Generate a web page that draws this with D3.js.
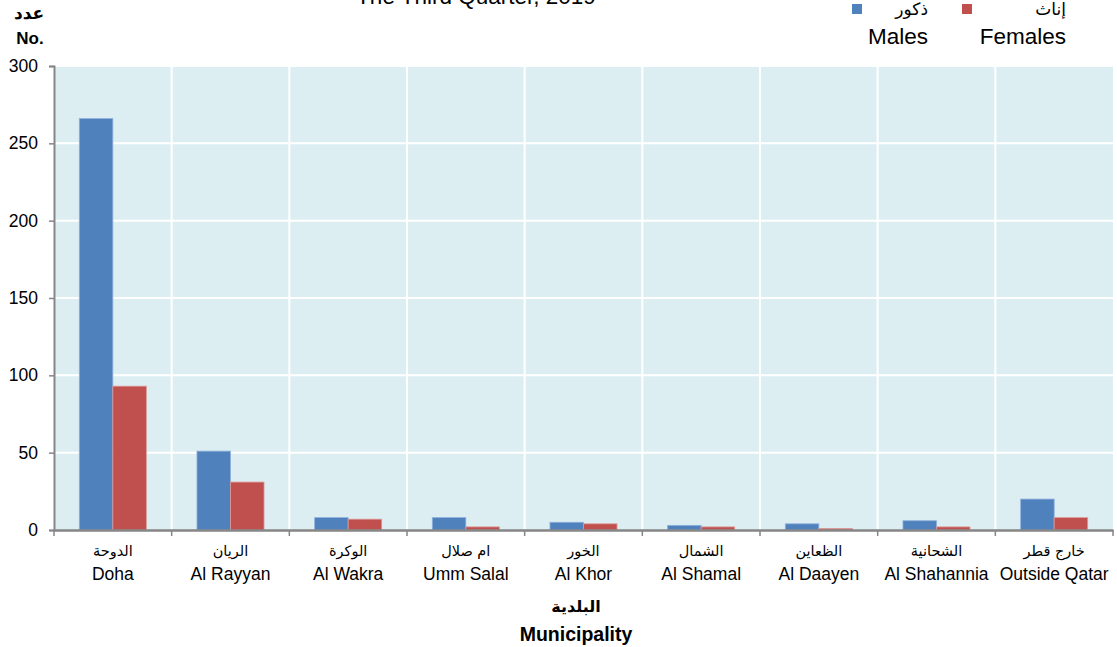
<!DOCTYPE html>
<html><head><meta charset="utf-8">
<script src="https://cdn.jsdelivr.net/npm/d3@7"></script>
<style>
html,body{margin:0;padding:0;background:#fff;}
text{font-family:"Liberation Sans",Arial,"DejaVu Sans",sans-serif;fill:#000;}
</style></head>
<body>
<svg id="chart" width="1117" height="647"></svg>
<script>
const categoriesAr = ["الدوحة","الريان","الوكرة","ام صلال","الخور","الشمال","الظعاين","الشحانية","خارج قطر"];
const categoriesEn = ["Doha","Al Rayyan","Al Wakra","Umm Salal","Al Khor","Al Shamal","Al Daayen","Al Shahannia","Outside Qatar"];
const males   = [266, 51, 8, 8, 5, 3, 4, 6, 20];
const females = [93, 31, 7, 2, 4, 2, 1, 2, 8];
const yTicks = [0, 50, 100, 150, 200, 250, 300];
const seriesNames = [{ar:"ذكور", en:"Males", color:"#4F81BD"}, {ar:"إناث", en:"Females", color:"#C0504D"}];
const titleText = "The Third Quarter, 2019";

const svg = d3.select("#chart");
const m = {left:54, right:1113, top:66, bottom:530};

const x = d3.scaleBand().domain(categoriesEn).range([m.left, m.right]).paddingInner(0).paddingOuter(0);
const inner = d3.scaleBand().domain([0,1]).range([0, x.bandwidth()]).paddingInner(0).paddingOuter(0.755);
const y = d3.scaleLinear().domain([0, 300]).range([m.bottom, m.top]);

// plot background
svg.append("rect").attr("x", m.left).attr("y", m.top).attr("width", m.right - m.left).attr("height", m.bottom - m.top).attr("fill", "#DDEEF3");

// horizontal gridlines
svg.append("g").selectAll("line").data(yTicks.filter(d => d > 0)).join("line")
  .attr("x1", m.left).attr("x2", m.right).attr("y1", d => y(d)).attr("y2", d => y(d))
  .attr("stroke", "#fff").attr("stroke-width", 2);
// vertical gridlines
svg.append("g").selectAll("line").data(categoriesEn.slice(1)).join("line")
  .attr("x1", d => x(d)).attr("x2", d => x(d)).attr("y1", m.top).attr("y2", m.bottom)
  .attr("stroke", "#fff").attr("stroke-width", 2);

// bars
const seriesData = [males, females];
seriesData.forEach((vals, si) => {
  svg.append("g").selectAll("rect").data(vals).join("rect")
    .attr("x", (d, i) => x(categoriesEn[i]) + inner(si))
    .attr("width", inner.bandwidth())
    .attr("y", d => y(d))
    .attr("height", d => y(0) - y(d))
    .attr("fill", seriesNames[si].color)
    .attr("stroke", si === 0 ? "#8fb0dc" : "#dc9a98").attr("stroke-width", 0.8);
});

// y axis
const yAxis = d3.axisLeft(y).tickValues(yTicks).tickSize(5).tickPadding(11);
const gy = svg.append("g").attr("transform", `translate(${m.left},0)`).call(yAxis);
gy.select(".domain").attr("stroke", "#868686").attr("stroke-width", 2);
gy.selectAll(".tick line").attr("stroke", "#868686").attr("stroke-width", 1.5);
gy.selectAll(".tick text").style("font-size", "17.5px").style("font-family", '"Liberation Sans",Arial,sans-serif').attr("fill", "#000");

// x axis
const xAxis = d3.axisBottom(x).tickSize(0).tickFormat("");
const gx = svg.append("g").attr("transform", `translate(0,${m.bottom})`).call(xAxis);
gx.select(".domain").attr("stroke", "#868686").attr("stroke-width", 2.5);
gx.selectAll(".tick").remove();
const bounds = categoriesEn.map(d => x(d)).concat([m.right]);
gx.selectAll("line.b").data(bounds).join("line").attr("class","b")
  .attr("x1", d => d).attr("x2", d => d).attr("y1", 0).attr("y2", 6)
  .attr("stroke", "#868686").attr("stroke-width", 1.5);

// category labels
const lab = svg.append("g");
lab.selectAll("text.ar").data(categoriesAr).join("text").attr("class","ar")
  .attr("x", (d, i) => x(categoriesEn[i]) + x.bandwidth()/2).attr("y", 556)
  .attr("text-anchor", "middle").style("font-size", "14.5px")
  .style("font-family", '"DejaVu Sans",sans-serif').text(d => d);
lab.selectAll("text.en").data(categoriesEn).join("text").attr("class","en")
  .attr("x", d => x(d) + x.bandwidth()/2).attr("y", 580)
  .attr("text-anchor", "middle").style("font-size", "17.5px").text(d => d);

// axis titles
svg.append("text").attr("x", 29).attr("y", 19).attr("text-anchor","middle")
  .style("font-size","17px").style("font-weight","bold").style("font-family",'"DejaVu Sans",sans-serif').text("عدد");
svg.append("text").attr("x", 30).attr("y", 44).attr("text-anchor","middle")
  .style("font-size","17px").style("font-weight","bold").text("No.");
svg.append("text").attr("x", 576).attr("y", 612).attr("text-anchor","middle")
  .style("font-size","16px").style("font-weight","bold").style("font-family",'"DejaVu Sans",sans-serif').text("البلدية");
svg.append("text").attr("x", 576).attr("y", 641).attr("text-anchor","middle")
  .style("font-size","19.5px").style("font-weight","bold").text("Municipality");

// title (cut off at top, as in the reference)
svg.append("text").attr("x", 476).attr("y", 4).attr("text-anchor","middle")
  .style("font-size","22.5px").text(titleText);

// legend
const legPos = [{sq:852, right:928}, {sq:962, right:1066}];
seriesNames.forEach((s, i) => {
  svg.append("rect").attr("x", legPos[i].sq).attr("y", 4).attr("width", 10).attr("height", 10).attr("fill", s.color);
  svg.append("text").attr("x", legPos[i].right).attr("y", 15).attr("text-anchor","end")
    .style("font-size","17px").style("font-family",'"DejaVu Sans",sans-serif').text(s.ar);
  svg.append("text").attr("x", legPos[i].right).attr("y", 44).attr("text-anchor","end")
    .style("font-size","22.5px").text(s.en);
});
</script>
</body></html>
